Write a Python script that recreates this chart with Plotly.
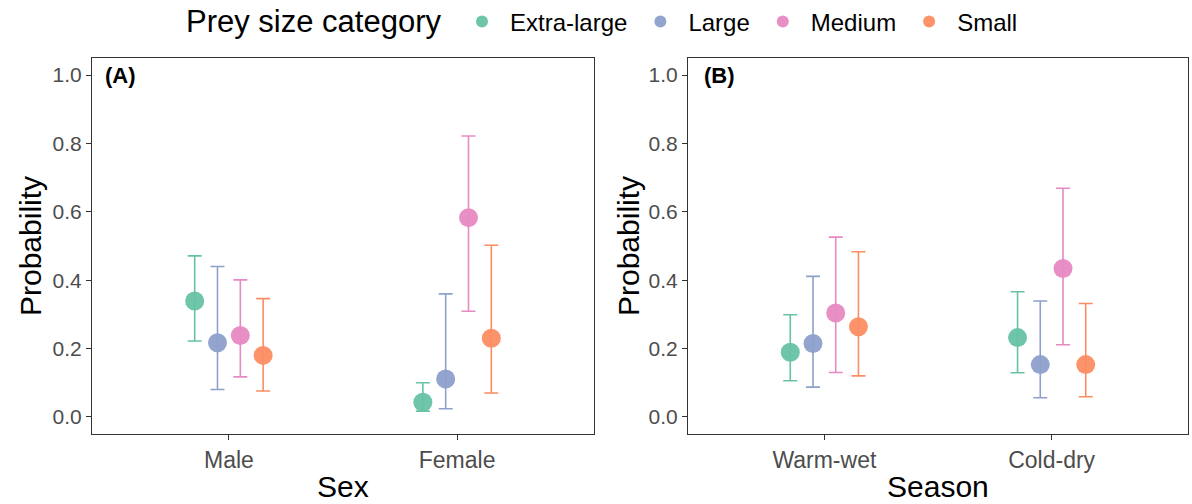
import plotly.graph_objects as go

groups = ["Extra-large", "Large", "Medium", "Small"]
colors = ["#66C2A5", "#8DA0CB", "#E78AC3", "#FC8D62"]

sex_cats = ["Male", "Female"]
sex_mean = {"Extra-large": [0.339, 0.043], "Large": [0.217, 0.111],
            "Medium": [0.238, 0.583], "Small": [0.180, 0.230]}
sex_low = {"Extra-large": [0.222, 0.017], "Large": [0.080, 0.024],
           "Medium": [0.117, 0.309], "Small": [0.076, 0.070]}
sex_up = {"Extra-large": [0.471, 0.100], "Large": [0.440, 0.360],
          "Medium": [0.401, 0.822], "Small": [0.346, 0.502]}

season_cats = ["Warm-wet", "Cold-dry"]
season_mean = {"Extra-large": [0.189, 0.232], "Large": [0.215, 0.153],
               "Medium": [0.304, 0.434], "Small": [0.264, 0.153]}
season_low = {"Extra-large": [0.106, 0.129], "Large": [0.087, 0.056],
              "Medium": [0.130, 0.211], "Small": [0.120, 0.059]}
season_up = {"Extra-large": [0.299, 0.366], "Large": [0.411, 0.339],
             "Medium": [0.526, 0.669], "Small": [0.483, 0.332]}

yticks = [0.0, 0.2, 0.4, 0.6, 0.8, 1.0]
dodge_width = 0.4

FONT = "Liberation Sans, Arial, sans-serif"
fig = go.Figure()

def add_panel(cats, mean, low, up, xa, ya, showleg):
    n = len(groups)
    for gi, g in enumerate(groups):
        off = (gi - (n - 1) / 2) * dodge_width / n
        xs = [ci + 1 + off for ci in range(len(cats))]
        fig.add_trace(go.Scatter(
            x=xs, y=mean[g], mode="markers", name=g,
            legendgroup=g, showlegend=showleg,
            marker=dict(color=colors[gi], size=19, opacity=0.95),
            error_y=dict(type="data", symmetric=False,
                         array=[u - m for u, m in zip(up[g], mean[g])],
                         arrayminus=[m - l for m, l in zip(mean[g], low[g])],
                         color=colors[gi], thickness=1.6, width=7),
            xaxis=xa, yaxis=ya))

add_panel(sex_cats, sex_mean, sex_low, sex_up, "x", "y", True)
add_panel(season_cats, season_mean, season_low, season_up, "x2", "y2", False)

ydom = [(504 - 434) / 504, (504 - 58) / 504]
axis_common = dict(showgrid=False, zeroline=False, showline=True, mirror=True,
                   linecolor="#333333", linewidth=1.2, ticks="outside",
                   ticklen=5, tickcolor="#333333", automargin=False)
xtickfont = dict(family=FONT, size=23, color="#4D4D4D")
ytickfont = dict(family=FONT, size=21, color="#4D4D4D")

fig.update_layout(
    width=1192, height=504,
    margin=dict(l=0, r=0, t=0, b=0, autoexpand=False),
    paper_bgcolor="white", plot_bgcolor="white",
    font=dict(family=FONT),
    xaxis=dict(domain=[92 / 1192, 594 / 1192], range=[0.4, 2.6],
               tickvals=[1, 2], ticktext=sex_cats, anchor="y",
               tickfont=xtickfont, **axis_common),
    yaxis=dict(domain=ydom, range=[-0.05, 1.05], tickvals=yticks,
               tickformat=".1f", anchor="x", tickfont=ytickfont, **axis_common),
    xaxis2=dict(domain=[688 / 1192, 1188 / 1192], range=[0.4, 2.6],
                tickvals=[1, 2], ticktext=season_cats, anchor="y2",
                tickfont=xtickfont, **axis_common),
    yaxis2=dict(domain=ydom, range=[-0.05, 1.05], tickvals=yticks,
                tickformat=".1f", anchor="x2", tickfont=ytickfont, **axis_common),
    legend=dict(orientation="h", x=454 / 1192, xanchor="left",
                y=(504 - 22) / 504, yanchor="middle",
                font=dict(family=FONT, size=24, color="black"),
                itemsizing="constant", itemwidth=46, bgcolor="rgba(0,0,0,0)"),
)

ann = [
    dict(text="Prey size category", x=443 / 1192, y=(504 - 22) / 504,
         xanchor="right", yanchor="middle", font=dict(size=31, color="black")),
    dict(text="<b>(A)</b>", x=103 / 1192, y=(504 - 75) / 504, xanchor="left", yanchor="middle",
         font=dict(size=22, color="black")),
    dict(text="<b>(B)</b>", x=702 / 1192, y=(504 - 75) / 504, xanchor="left", yanchor="middle",
         font=dict(size=22, color="black")),
    dict(text="Probability", x=30 / 1192, y=(504 - 246) / 504, textangle=-90,
         xanchor="center", yanchor="middle", font=dict(size=30, color="black")),
    dict(text="Probability", x=628 / 1192, y=(504 - 246) / 504, textangle=-90,
         xanchor="center", yanchor="middle", font=dict(size=30, color="black")),
    dict(text="Sex", x=343 / 1192, y=(504 - 486) / 504, xanchor="center", yanchor="middle",
         font=dict(size=30, color="black")),
    dict(text="Season", x=938 / 1192, y=(504 - 486) / 504, xanchor="center", yanchor="middle",
         font=dict(size=30, color="black")),
]
for a in ann:
    a.update(xref="paper", yref="paper", showarrow=False)
    a["font"]["family"] = FONT
fig.update_layout(annotations=ann)

fig.write_html("out.html", config={"displayModeBar": False},
               post_script="document.body.style.margin='0px';document.body.style.overflow='hidden';")
